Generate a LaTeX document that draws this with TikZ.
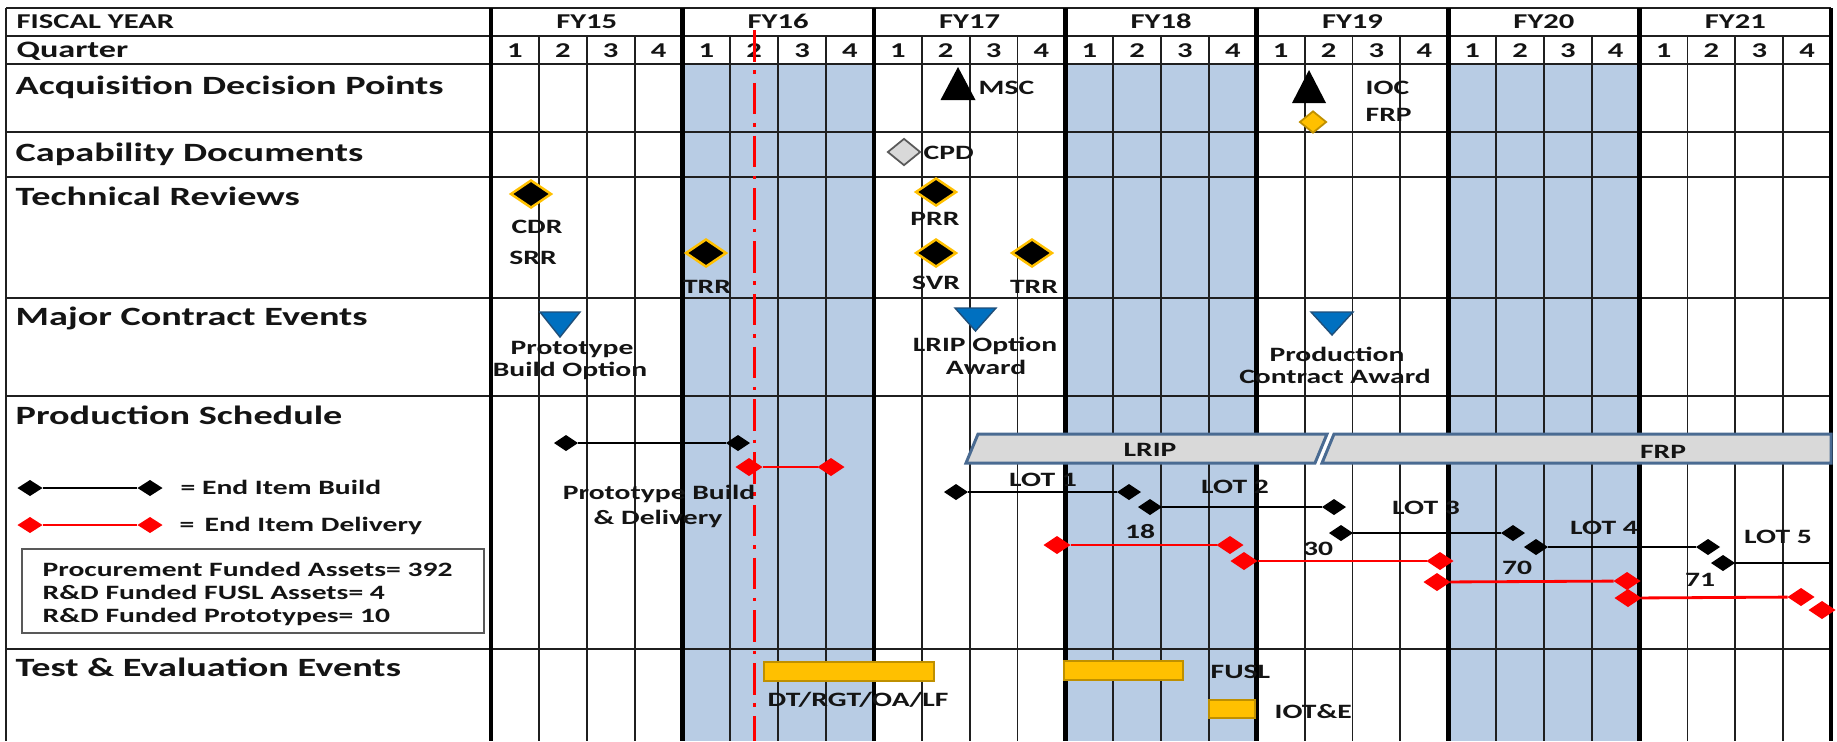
\documentclass[tikz,border=0pt]{standalone}
\usepackage{fontspec}
\setmainfont{Carlito}[FakeStretch=1.45]
\usepackage{xcolor}
\usetikzlibrary{shapes.geometric}
\definecolor{PlanInk}{HTML}{141414}
\definecolor{PlanRule}{HTML}{1F1F1F}
\definecolor{PlanShade}{HTML}{B8CCE4}
\definecolor{PlanGold}{HTML}{FFC000}
\definecolor{PlanGoldEdge}{HTML}{BF9000}
\definecolor{PlanBlue}{HTML}{0070C0}
\definecolor{PlanBlueEdge}{HTML}{1F4E79}
\definecolor{PlanGrey}{HTML}{D9D9D9}
\definecolor{PlanGreyEdge}{HTML}{595959}
\definecolor{PlanSlate}{HTML}{4A6B92}
\definecolor{PlanRed}{HTML}{FF0000}

% left edge of quarter #1 (counted from FY15 Q1)
\newcommand\qx[1]{491+47.86*(#1)}

\tikzset{
  rowlabel/.style={anchor=west,inner sep=0pt,text=PlanInk,font=\fontsize{7.5}{9}\selectfont\bfseries,text height=4.8pt,text depth=0pt},
  headlabel/.style={inner sep=0pt,text=PlanInk,font=\fontsize{6}{7}\selectfont\bfseries,text height=3.9pt,text depth=0pt},
  marklabel/.style={inner sep=0pt,text=PlanInk,font=\fontsize{5.8}{7}\selectfont\bfseries,text height=3.7pt,text depth=0pt},
  quarterrule/.style={draw=PlanRule,line width=0.55pt},
  rowrule/.style={draw=PlanRule,line width=0.6pt},
  yearrule/.style={draw=black,line width=1.3pt},
  nowline/.style={draw=PlanRed,line width=0.85pt,dash pattern=on 9pt off 2.5pt on 1pt off 2.5pt},
  reviewdiamond/.style={diamond,fill=black,draw=PlanGold,line width=0.7pt,inner sep=0pt,outer sep=0pt,minimum width=0.4cm,minimum height=0.27cm},
  builddiamond/.style={diamond,fill=black,inner sep=0pt,outer sep=0pt,minimum width=0.24cm,minimum height=0.16cm},
  deliverydiamond/.style={diamond,fill=PlanRed,inner sep=0pt,outer sep=0pt,minimum width=0.27cm,minimum height=0.18cm},
  buildline/.style={draw=black,line width=0.6pt},
  deliveryline/.style={draw=PlanRed,line width=0.8pt},
  contracttri/.style={fill=PlanBlue,draw=PlanBlueEdge,line width=0.4pt},
  phasebar/.style={fill=PlanGrey,draw=PlanSlate,line width=0.85pt},
  testbar/.style={fill=PlanGold,draw=PlanGoldEdge,line width=0.6pt}
}

\begin{document}
\begin{tikzpicture}[x=0.01cm,y=-0.01cm]
  \useasboundingbox (0,0) rectangle (1837,741);

  % shaded fiscal years
  \foreach \k in {1,3,5}
    \fill[PlanShade] ({\qx{4*\k}},64) rectangle ({\qx{4*\k+4}},741);

  % grid
  \foreach \k in {1,...,27}
    \draw[quarterrule] ({\qx{\k}},36) -- ({\qx{\k}},741);
  \foreach \r in {8,36,64,132,177,298,396,649}
    \draw[rowrule] (6,\r) -- (1831,\r);
  \draw[rowrule] (6,8) -- (6,741);
  \foreach \k in {0,...,7}
    \draw[yearrule] ({\qx{4*\k}},8) -- ({\qx{4*\k}},741);

  % header
  \node[headlabel,anchor=west] (fiscal) at (16,22) {FISCAL YEAR};
  \node[headlabel,anchor=west,font=\fontsize{6.7}{8}\selectfont\bfseries,text height=4.3pt] (quarter) at (16,50) {Quarter};
  \foreach \fy [count=\k from 0] in {15,...,21}
    \node[headlabel] (fy\fy) at ({\qx{4*\k+2}},22) {FY\fy};
  \foreach \k in {0,...,27} {
    \pgfmathtruncatemacro\qn{mod(\k,4)+1}
    \node[headlabel] (q\k) at ({\qx{\k+0.5}},51) {\qn};
  }

  % row labels
  \node[rowlabel] (adp) at (15,86) {Acquisition Decision Points};
  \node[rowlabel] (capdocs) at (15,153) {Capability Documents};
  \node[rowlabel] (techrev) at (15,197) {Technical Reviews};
  \node[rowlabel] (contracts) at (15,317) {Major Contract Events};
  \node[rowlabel] (prodsched) at (15,416) {Production Schedule};
  \node[rowlabel] (testeval) at (15,668) {Test \& Evaluation Events};

  % current date
  \coordinate (nowTop) at ({\qx{5.5}},30);
  \coordinate (nowBot) at ({\qx{5.5}},741);
  \draw[nowline] (nowTop) -- (nowBot);

  % acquisition decision points
  \coordinate (mscTip) at (958,67);
  \fill[black] (mscTip) -- ++(17.5,33) -- ++(-35,0) -- cycle;
  \node[marklabel,anchor=west] (msc) at (978,88) {MSC};
  \coordinate (iocTip) at (1309,70);
  \fill[black] (iocTip) -- ++(17,33) -- ++(-34,0) -- cycle;
  \node[diamond,fill=PlanGold,draw=PlanGoldEdge,line width=0.5pt,inner sep=0pt,minimum width=0.27cm,minimum height=0.22cm] (frpMark) at (1313,122) {};
  \node[marklabel,anchor=west] (ioc) at (1365,88) {IOC};
  \node[marklabel,anchor=west] (frp) at (1365,115) {FRP};

  % capability documents
  \node[diamond,fill=PlanGrey,draw=PlanGreyEdge,line width=0.5pt,inner sep=0pt,minimum width=0.33cm,minimum height=0.27cm] (cpdMark) at (904,152) {};
  \node[marklabel,anchor=west] (cpd) at (923,153) {CPD};

  % technical reviews
  \node[reviewdiamond] (cdrMark) at (531,194) {};
  \node[marklabel] (cdr) at (537,227) {CDR};
  \node[marklabel] (srr) at (533,258) {SRR};
  \node[reviewdiamond] (trrMarkA) at (706,253) {};
  \node[marklabel] (trrA) at (707,287) {TRR};
  \node[reviewdiamond] (prrMark) at (936,192) {};
  \node[marklabel] (prr) at (935,219) {PRR};
  \node[reviewdiamond] (svrMark) at (936,253) {};
  \node[marklabel] (svr) at (936,283) {SVR};
  \node[reviewdiamond] (trrMarkB) at (1032,253) {};
  \node[marklabel] (trrB) at (1034,287) {TRR};

  % major contract events
  \coordinate (protoTri) at (540,312);
  \filldraw[contracttri] (protoTri) -- ++(40,0) -- ++(-20,25) -- cycle;
  \node[marklabel] (protoA) at (572,348) {Prototype};
  \node[marklabel] (protoB) at (570,370) {Build Option};
  \coordinate (lripTri) at (955,308);
  \filldraw[contracttri] (lripTri) -- ++(41,0) -- ++(-20.5,23) -- cycle;
  \node[marklabel] (lripA) at (985,345) {LRIP Option};
  \node[marklabel] (lripB) at (986,368) {Award};
  \coordinate (prodTri) at (1311,312);
  \filldraw[contracttri] (prodTri) -- ++(42,0) -- ++(-21,23) -- cycle;
  \node[marklabel] (prodA) at (1337,355) {Production};
  \node[marklabel] (prodB) at (1335,377) {Contract Award};

  % production schedule: legend
  \node[builddiamond,minimum width=0.25cm] (legBuildA) at (30,488) {};
  \node[builddiamond,minimum width=0.25cm] (legBuildB) at (150,488) {};
  \draw[buildline] (legBuildA) -- (legBuildB);
  \node[marklabel,anchor=west] (legBuild) at (180,488) {= End Item Build};
  \node[deliverydiamond,minimum width=0.25cm,minimum height=0.16cm] (legDelivA) at (30,525) {};
  \node[deliverydiamond,minimum width=0.25cm,minimum height=0.16cm] (legDelivB) at (150,525) {};
  \draw[deliveryline] (legDelivA) -- (legDelivB);
  \node[marklabel,anchor=west] (legDeliv) at (179,525) {=\enspace End Item Delivery};
  \draw[draw=PlanGreyEdge,line width=0.6pt] (22,549) rectangle (484,633);
  \node[marklabel,anchor=west] (assetsA) at (42,570) {Procurement Funded Assets= 392};
  \node[marklabel,anchor=west] (assetsB) at (42,593) {R\&D Funded FUSL Assets= 4};
  \node[marklabel,anchor=west] (assetsC) at (42,616) {R\&D Funded Prototypes= 10};

  % production phases
  \filldraw[phasebar] (978,434) -- (1327,434) -- (1315,463) -- (966,463) -- cycle;
  \node[marklabel] (lrip) at (1150,450) {LRIP};
  \filldraw[phasebar] (1334,434) -- (1831,434) -- (1831,463) -- (1322,463) -- cycle;
  \node[marklabel] (frpPhase) at (1663,452) {FRP};

  % prototype build and delivery
  \node[builddiamond] (pbA) at (566,443) {};
  \node[builddiamond] (pbB) at (738,443) {};
  \draw[buildline] (pbA) -- (pbB);
  \node[deliverydiamond] (pdA) at (749,467) {};
  \node[deliverydiamond] (pdB) at (831,467) {};
  \draw[deliveryline] (pdA) -- (pdB);
  \node[marklabel] (protoBuildA) at (659,493) {Prototype Build};
  \node[marklabel] (protoBuildB) at (658,518) {\& Delivery};

  % lots: build
  \node[builddiamond] (l1A) at (956,492) {};
  \node[builddiamond] (l1B) at (1129,492) {};
  \draw[buildline] (l1A) -- (l1B);
  \node[builddiamond] (l2A) at (1150,507) {};
  \node[builddiamond] (l2B) at (1334,507) {};
  \draw[buildline] (l2A) -- (l2B);
  \node[builddiamond] (l3A) at (1341,533) {};
  \node[builddiamond] (l3B) at (1513,533) {};
  \draw[buildline] (l3A) -- (l3B);
  \node[builddiamond] (l4A) at (1536,547) {};
  \node[builddiamond] (l4B) at (1708,547) {};
  \draw[buildline] (l4A) -- (l4B);
  \node[builddiamond] (l5A) at (1723,563) {};
  \coordinate (l5End) at (1831,563);
  \draw[buildline] (l5A) -- (l5End);

  % lots: delivery
  \node[deliverydiamond] (d1A) at (1057,545) {};
  \node[deliverydiamond] (d1B) at (1230,545) {};
  \draw[deliveryline] (d1A) -- (d1B);
  \node[deliverydiamond] (d2A) at (1244,561) {};
  \node[deliverydiamond] (d2B) at (1440,561) {};
  \draw[deliveryline] (d2A) -- (d2B);
  \node[deliverydiamond] (d3A) at (1437,582) {};
  \node[deliverydiamond] (d3B) at (1627,581) {};
  \draw[deliveryline] (d3A) -- (d3B);
  \node[deliverydiamond] (d4A) at (1628,598) {};
  \node[deliverydiamond] (d4B) at (1801,597) {};
  \draw[deliveryline] (d4A) -- (d4B);
  \node[deliverydiamond] (d5A) at (1822,610) {};

  % lot labels
  \node[marklabel] (lot1) at (1043,480) {LOT 1};
  \node[marklabel] (lot2) at (1235,487) {LOT 2};
  \node[marklabel] (lot3) at (1426,508) {LOT 3};
  \node[marklabel] (lot4) at (1604,528) {LOT 4};
  \node[marklabel] (lot5) at (1778,537) {LOT 5};
  \node[marklabel] (qty1) at (1140,532) {18};
  \node[marklabel] (qty2) at (1318,549) {30};
  \node[marklabel] (qty3) at (1517,568) {70};
  \node[marklabel] (qty4) at (1700,580) {71};

  % test and evaluation events
  \filldraw[testbar] (764,662) rectangle (934,681);
  \node[marklabel] (dtLabel) at (858,700) {DT/RGT/OA/LF};
  \filldraw[testbar] (1064,661) rectangle (1183,680);
  \node[marklabel,anchor=west] (fusl) at (1210,672) {FUSL};
  \filldraw[testbar] (1209,700) rectangle (1255,718);
  \node[marklabel,anchor=west] (iote) at (1274,712) {IOT\&E};
\end{tikzpicture}
\end{document}
